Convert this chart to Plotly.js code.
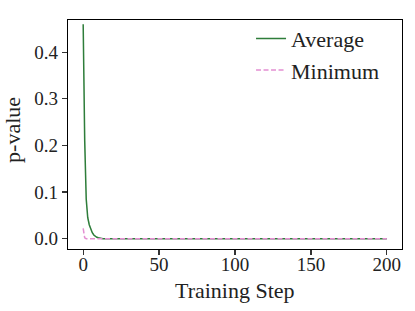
<!DOCTYPE html>
<html><head><meta charset="utf-8">
<script src="https://cdn.plot.ly/plotly-3.0.1.min.js"></script>
<style>body{margin:0;padding:0;background:#fff}#c{width:415px;height:311px}</style>
</head><body><div id="c"></div>
<script>
const avgHead = [0.46, 0.21, 0.085, 0.045, 0.03, 0.02, 0.013, 0.008, 0.005, 0.003, 0.002, 0.001];
const avgStdHead = [0.008, 0.012, 0.008, 0.005, 0.004, 0.003, 0.002, 0.0015, 0.001, 0.0008, 0.0005, 0.0003];
// Minimum p-value per training step
const minHead = [0.022, 0.002];
const minStdHead = [0.004, 0.001];
const nSteps = 201;
const xTicks = [0, 50, 100, 150, 200];
const yTicks = [0, 0.1, 0.2, 0.3, 0.4];
const yTickText = ['0.0', '0.1', '0.2', '0.3', '0.4'];

const steps = [], avg = [], avgHi = [], avgLo = [], mn = [], mnHi = [], mnLo = [];
for (let i = 0; i < nSteps; i++) {
  steps.push(i);
  const a = i < avgHead.length ? avgHead[i] : 0;
  const as = i < avgStdHead.length ? avgStdHead[i] : 0;
  avg.push(a); avgHi.push(a + as); avgLo.push(Math.max(0, a - as));
  const m = i < minHead.length ? minHead[i] : 0;
  const ms = i < minStdHead.length ? minStdHead[i] : 0;
  mn.push(m); mnHi.push(m + ms); mnLo.push(Math.max(0, m - ms));
}
const green = '#2e7d3a', pink = '#e48fd2';
const font = 'Liberation Serif, Times New Roman, serif';
const data = [
  {x: steps, y: avgHi, mode: 'lines', line: {width: 0, color: green}, showlegend: false, hoverinfo: 'skip'},
  {x: steps, y: avgLo, mode: 'lines', line: {width: 0, color: green}, fill: 'tonexty', fillcolor: 'rgba(46,125,58,0.2)', showlegend: false, hoverinfo: 'skip'},
  {x: steps, y: mnHi, mode: 'lines', line: {width: 0, color: pink}, showlegend: false, hoverinfo: 'skip'},
  {x: steps, y: mnLo, mode: 'lines', line: {width: 0, color: pink}, fill: 'tonexty', fillcolor: 'rgba(228,143,210,0.25)', showlegend: false, hoverinfo: 'skip'},
  {x: steps, y: avg, mode: 'lines', name: 'Average', line: {color: green, width: 1.5}},
  {x: steps, y: mn, mode: 'lines', name: 'Minimum', line: {color: pink, width: 1.5, dash: '5px,2.5px'}},
  // invisible carrier so the label-only x axis is drawn
  {x: steps, y: avg, xaxis: 'x2', mode: 'lines', line: {width: 0}, opacity: 0, showlegend: false, hoverinfo: 'skip'}
];
const layout = {
  width: 415, height: 311,
  margin: {l: 68, r: 13, t: 20, b: 62},
  paper_bgcolor: '#fff', plot_bgcolor: '#fff',
  font: {family: font, color: '#222', size: 19},
  showlegend: true,
  legend: {x: 0.548, y: 1.01, xanchor: 'left', yanchor: 'top', bgcolor: 'rgba(0,0,0,0)', traceorder: 'normal',
           font: {family: font, size: 22, color: '#222'}, itemwidth: 30, tracegroupgap: 0},
  xaxis: {range: [-10, 210], tickvals: xTicks, ticks: 'outside', ticklen: 5, tickwidth: 1.3, showticklabels: false,
          tickcolor: '#333', showgrid: false, zeroline: false, showline: true, linecolor: '#000', linewidth: 1.3, mirror: true},
  xaxis2: {range: [-10, 210], overlaying: 'x', anchor: 'y', side: 'bottom', tickvals: xTicks, ticks: '',
           ticklabelstandoff: 2, showgrid: false, zeroline: false, showline: false,
           tickfont: {family: font, size: 19, color: '#222'}},
  yaxis: {range: [-0.022, 0.469], tickvals: yTicks, ticktext: yTickText,
          ticks: 'outside', ticklen: 5, tickwidth: 1.3, tickcolor: '#333', showgrid: false, zeroline: false,
          showline: true, linecolor: '#000', linewidth: 1.3, mirror: true,
          tickfont: {family: font, size: 19, color: '#222'}},
  annotations: [
    {text: 'Training Step', xref: 'paper', yref: 'paper', x: 0.5, y: 0, xanchor: 'center', yanchor: 'middle',
     yshift: -41, showarrow: false, font: {family: font, size: 22, color: '#222'}},
    {text: 'p-value', xref: 'paper', yref: 'paper', x: 0, y: 0.52, xanchor: 'center', yanchor: 'middle',
     xshift: -55, textangle: -90, showarrow: false, font: {family: font, size: 22, color: '#222'}}
  ]
};
Plotly.newPlot('c', data, layout, {displayModeBar: false, staticPlot: true});
</script></body></html>
